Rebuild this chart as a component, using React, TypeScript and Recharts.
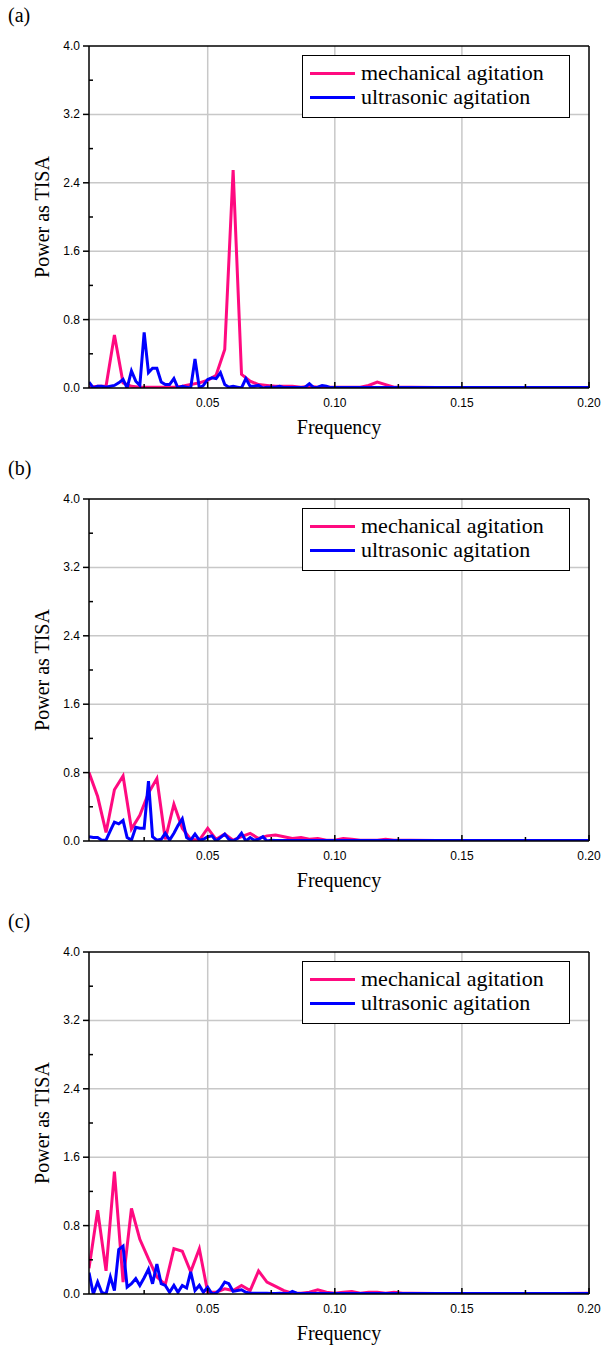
import { LineChart, Line, XAxis, YAxis, CartesianGrid, ReferenceLine } from "recharts"

// frequency bins (mechanical ~1/300 spacing, ultrasonic ~1/600 spacing), coarse tail where power is ~0
const mechFreq = [
  0.0033, 0.0067, 0.01, 0.0133, 0.0167, 0.02, 0.0233, 0.0267, 0.03, 0.0333,
  0.0367, 0.04, 0.0433, 0.0467, 0.05, 0.0533, 0.0567, 0.06, 0.0633, 0.0667,
  0.07, 0.0733, 0.0767, 0.08, 0.0833, 0.0867, 0.09, 0.0933, 0.0967, 0.1,
  0.1033, 0.1067, 0.11, 0.1133, 0.1167, 0.12, 0.1233, 0.1267, 0.13,
  0.14, 0.15, 0.16, 0.17, 0.18, 0.19, 0.2,
]
const ultraFreq = [
  0.0033, 0.005, 0.0067, 0.0083, 0.01, 0.0117, 0.0133, 0.015, 0.0167, 0.0183,
  0.02, 0.0217, 0.0233, 0.025, 0.0267, 0.0283, 0.03, 0.0317, 0.0333, 0.035,
  0.0367, 0.0383, 0.04, 0.0417, 0.0433, 0.045, 0.0467, 0.0483, 0.05, 0.0517,
  0.0533, 0.055, 0.0567, 0.0583, 0.06, 0.0617, 0.0633, 0.065, 0.0667, 0.0683,
  0.07, 0.0717, 0.0733, 0.075, 0.0767, 0.0783, 0.08, 0.0817, 0.0833, 0.085,
  0.0867, 0.0883, 0.09, 0.0917, 0.0933, 0.095, 0.0967, 0.0983, 0.1,
  0.11, 0.12, 0.13, 0.14, 0.15, 0.16, 0.17, 0.18, 0.19, 0.2,
]

const mechA = [
  0.01, 0.02, 0.02, 0.62, 0.06, 0.02, 0.01, 0.01, 0.01, 0.01,
  0.01, 0.02, 0.04, 0.06, 0.09, 0.15, 0.45, 2.55, 0.16, 0.08,
  0.04, 0.03, 0.02, 0.02, 0.02, 0.01, 0.02, 0.01, 0.01, 0.01,
  0.01, 0.01, 0.01, 0.03, 0.07, 0.04, 0.01, 0.01, 0.01,
  0.005, 0.005, 0.005, 0.005, 0.005, 0.005, 0.005,
]
const ultraA = [
  0.07, 0.0, 0.02, 0.02, 0.01, 0.02, 0.03, 0.06, 0.1, 0.0,
  0.2, 0.08, 0.03, 0.65, 0.18, 0.23, 0.23, 0.07, 0.04, 0.04,
  0.11, 0.0, 0.02, 0.01, 0.0, 0.34, 0.0, 0.03, 0.1, 0.12,
  0.11, 0.18, 0.04, 0.01, 0.02, 0.01, 0.0, 0.11, 0.02, 0.02,
  0.03, 0.0, 0.01, 0.01, 0.01, 0.02, 0.005, 0.005, 0.005, 0.005,
  0.005, 0.01, 0.05, 0.005, 0.01, 0.03, 0.02, 0.005, 0.005,
  0.005, 0.005, 0.005, 0.005, 0.005, 0.005, 0.005, 0.005, 0.005, 0.005,
]

const mechB = [
  0.8, 0.52, 0.1, 0.6, 0.76, 0.14, 0.3, 0.56, 0.73, 0.02,
  0.43, 0.15, 0.02, 0.01, 0.15, 0.02, 0.08, 0.01, 0.05, 0.09,
  0.03, 0.06, 0.07, 0.05, 0.03, 0.04, 0.02, 0.03, 0.01, 0.01,
  0.03, 0.02, 0.01, 0.01, 0.01, 0.02, 0.01, 0.01, 0.01,
  0.005, 0.005, 0.005, 0.005, 0.005, 0.005, 0.005,
]
const ultraB = [
  0.05, 0.04, 0.04, 0.01, 0.01, 0.12, 0.22, 0.2, 0.24, 0.04,
  0.01, 0.16, 0.15, 0.15, 0.7, 0.05, 0.01, 0.02, 0.09, 0.01,
  0.09, 0.18, 0.26, 0.04, 0.01, 0.08, 0.01, 0.02, 0.05, 0.06,
  0.0, 0.04, 0.08, 0.02, 0.0, 0.03, 0.09, 0.0, 0.04, 0.01,
  0.02, 0.05, 0.0, 0.01, 0.005, 0.005, 0.005, 0.005, 0.005, 0.005,
  0.005, 0.005, 0.005, 0.005, 0.005, 0.005, 0.005, 0.005, 0.005,
  0.005, 0.005, 0.005, 0.005, 0.005, 0.005, 0.005, 0.005, 0.005, 0.005,
]

const mechC = [
  0.3, 0.98, 0.27, 1.43, 0.14, 1.0, 0.64, 0.41, 0.2, 0.11,
  0.53, 0.5, 0.26, 0.53, 0.02, 0.02, 0.06, 0.04, 0.1, 0.04,
  0.27, 0.14, 0.09, 0.04, 0.01, 0.01, 0.02, 0.05, 0.02, 0.01,
  0.02, 0.03, 0.01, 0.02, 0.02, 0.01, 0.02, 0.01, 0.01,
  0.005, 0.005, 0.005, 0.005, 0.005, 0.005, 0.01,
]
const ultraC = [
  0.25, 0.0, 0.14, 0.02, 0.0, 0.2, 0.04, 0.52, 0.56, 0.08,
  0.12, 0.18, 0.1, 0.19, 0.29, 0.12, 0.35, 0.12, 0.1, 0.02,
  0.1, 0.02, 0.1, 0.07, 0.26, 0.04, 0.1, 0.02, 0.08, 0.0,
  0.01, 0.06, 0.14, 0.12, 0.03, 0.04, 0.05, 0.02, 0.01, 0.01,
  0.01, 0.01, 0.01, 0.005, 0.005, 0.01, 0.005, 0.005, 0.03, 0.01,
  0.005, 0.005, 0.01, 0.005, 0.005, 0.005, 0.005, 0.005, 0.005,
  0.005, 0.005, 0.005, 0.005, 0.005, 0.005, 0.005, 0.005, 0.005, 0.005,
]

const panelLabels = ["(a)", "(b)", "(c)"]
const mechSeries = [mechA, mechB, mechC]
const ultraSeries = [ultraA, ultraB, ultraC]

const xTicks = [0.025, 0.05, 0.075, 0.1, 0.125, 0.15, 0.175, 0.2]
const xGrid = [0.05, 0.1, 0.15]
const yTicks = [0, 0.4, 0.8, 1.2, 1.6, 2.0, 2.4, 2.8, 3.2, 3.6, 4.0]
const yGrid = [0.8, 1.6, 2.4, 3.2]

const MECH = "#ff0a80"
const ULTRA = "#0000ff"
const serif = "'Liberation Serif', 'Times New Roman', serif"
const sans = "'Liberation Sans', Arial, sans-serif"

const toPoints = (freq: number[], power: number[]) =>
  freq.map((f, i) => ({ f, p: power[i] }))

const isMultiple = (v: number, step: number) =>
  Math.abs(v / step - Math.round(v / step)) < 1e-6

const XTick = ({ x, y, payload }: any) => {
  const v = payload.value
  const major = isMultiple(v, 0.05)
  return (
    <g>
      <line x1={x} x2={x} y1={y} y2={y - (major ? 6 : 4)} stroke="#000" strokeWidth={1.5} />
      {major && (
        <text x={x} y={y + 19} textAnchor="middle" fontFamily={sans} fontSize={12} fill="#000">
          {v.toFixed(2)}
        </text>
      )}
    </g>
  )
}

const YTick = ({ x, y, payload }: any) => {
  const v = payload.value
  const major = isMultiple(v, 0.8)
  return (
    <g>
      {major ? (
        <line x1={x - 6} x2={x} y1={y} y2={y} stroke="#000" strokeWidth={1.5} />
      ) : (
        <line x1={x} x2={x + 4} y1={y} y2={y} stroke="#000" strokeWidth={1.5} />
      )}
      {major && (
        <text x={x - 9} y={y + 4} textAnchor="end" fontFamily={sans} fontSize={12} fill="#000">
          {v.toFixed(1)}
        </text>
      )}
    </g>
  )
}

function LegendBox() {
  const row = (color: string, text: string) => (
    <div style={{ display: "flex", alignItems: "center", height: 24 }}>
      <div style={{ width: 45, height: 3, background: color, marginLeft: 7, marginRight: 6 }} />
      <span style={{ fontFamily: serif, fontSize: 22, lineHeight: "24px", color: "#000" }}>{text}</span>
    </div>
  )
  return (
    <div
      style={{
        position: "absolute",
        left: 302,
        top: 55,
        width: 268,
        height: 63,
        boxSizing: "border-box",
        border: "1px solid #000",
        background: "#fff",
        paddingTop: 5,
      }}
    >
      {row(MECH, "mechanical agitation")}
      {row(ULTRA, "ultrasonic agitation")}
    </div>
  )
}

function Panel({ index }: { index: number }) {
  const mechData = toPoints(mechFreq, mechSeries[index])
  const ultraData = toPoints(ultraFreq, ultraSeries[index])
  return (
    <div style={{ position: "absolute", left: 0, top: index * 453, width: 601, height: 453 }}>
      <LineChart width={601} height={453} margin={{ top: 46, right: 12, bottom: 0, left: 0 }}>
        <CartesianGrid
          horizontalValues={yGrid}
          verticalValues={xGrid}
          stroke="#c8c8c8"
          strokeWidth={1.5}
        />
        <XAxis
          type="number"
          dataKey="f"
          domain={[0.0033, 0.2]}
          allowDataOverflow
          ticks={xTicks}
          height={65}
          tick={<XTick />}
          tickLine={false}
          tickSize={0}
          tickMargin={0}
          axisLine={{ stroke: "#000", strokeWidth: 1.5 }}
          label={{
            value: "Frequency",
            position: "insideBottom",
            offset: 19,
            style: { fontFamily: serif, fontSize: 20, fill: "#000" },
          }}
        />
        <YAxis
          type="number"
          dataKey="p"
          domain={[0, 4]}
          allowDataOverflow
          ticks={yTicks}
          width={89}
          tick={<YTick />}
          tickLine={false}
          tickSize={0}
          tickMargin={0}
          axisLine={{ stroke: "#000", strokeWidth: 1.5 }}
          label={{
            value: "Power as TISA",
            angle: -90,
            position: "insideLeft",
            offset: 42,
            style: { textAnchor: "middle", fontFamily: serif, fontSize: 20, fill: "#000" },
          }}
        />
        <ReferenceLine y={4} stroke="#000" strokeWidth={1.5} />
        <ReferenceLine x={0.2} stroke="#000" strokeWidth={1.5} />
        <Line
          data={mechData}
          dataKey="p"
          type="linear"
          stroke={MECH}
          strokeWidth={3}
          dot={false}
          isAnimationActive={false}
        />
        <Line
          data={ultraData}
          dataKey="p"
          type="linear"
          stroke={ULTRA}
          strokeWidth={3}
          dot={false}
          isAnimationActive={false}
        />
      </LineChart>
      <div
        style={{ position: "absolute", left: 8, top: 4, fontFamily: serif, fontSize: 20, color: "#000" }}
      >
        {panelLabels[index]}
      </div>
      <LegendBox />
    </div>
  )
}

export default function App() {
  return (
    <div
      style={{
        position: "absolute",
        left: 0,
        top: 0,
        width: 601,
        height: 1347,
        background: "#fff",
        overflow: "hidden",
      }}
    >
      <Panel index={0} />
      <Panel index={1} />
      <Panel index={2} />
    </div>
  )
}
